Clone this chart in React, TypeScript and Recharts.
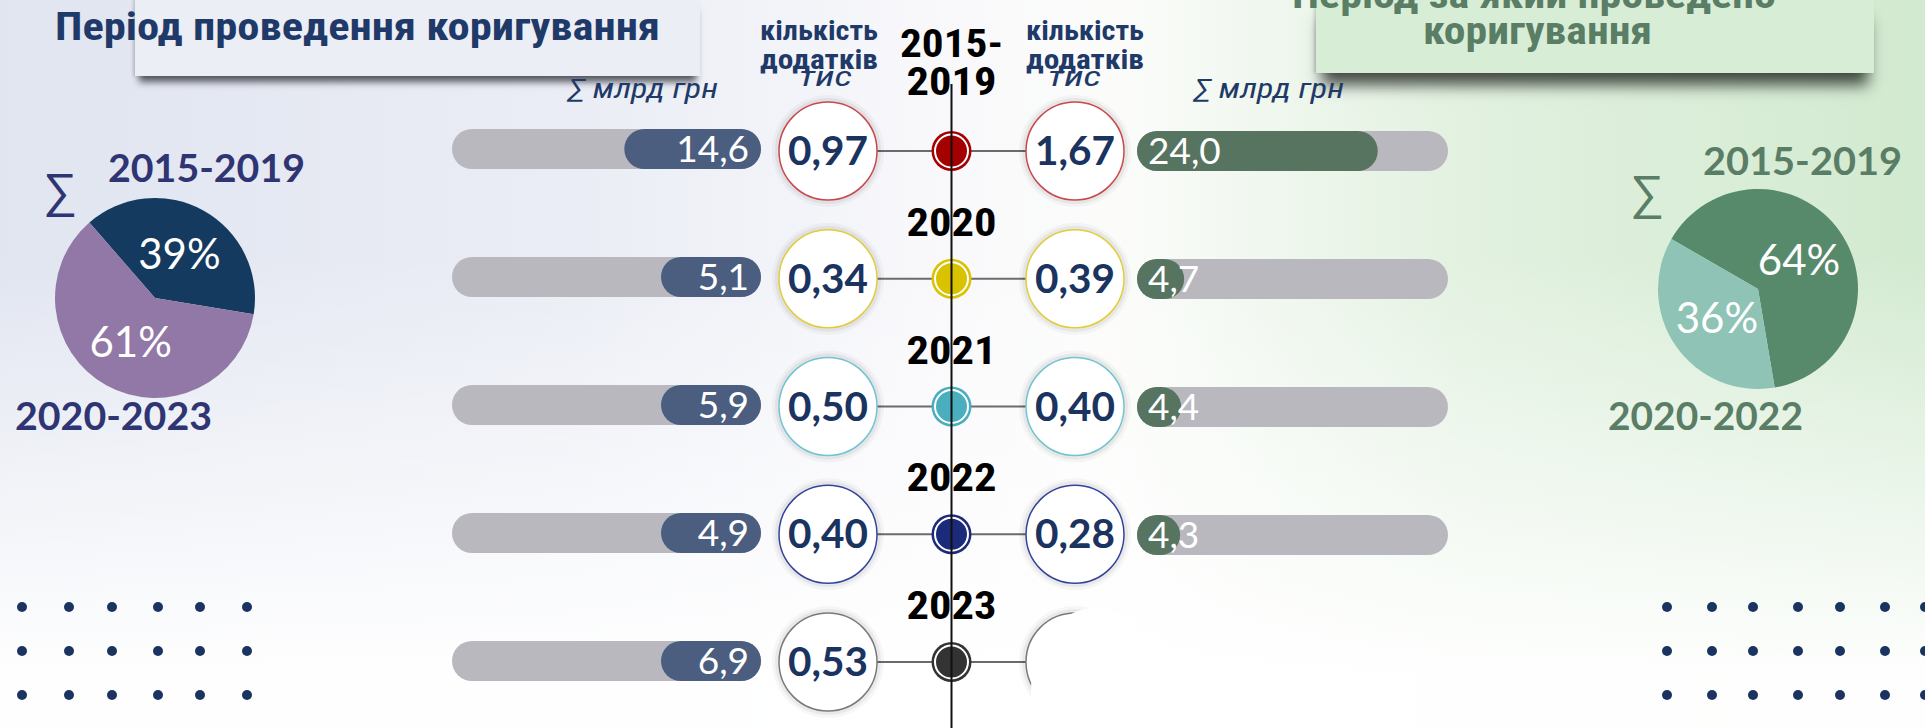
import {
  Bar,
  BarChart,
  Cell,
  LabelList,
  Pie,
  PieChart,
  Scatter,
  ScatterChart,
  XAxis,
  YAxis,
} from "recharts";

// data read from the infographic
const years = ["2015-\n2019", "2020", "2021", "2022", "2023"];
const leftSums = [14.6, 5.1, 5.9, 4.9, 6.9]; // млрд грн, період проведення
const leftCounts = [0.97, 0.34, 0.5, 0.4, 0.53]; // тис додатків
const rightSums = [24.0, 4.7, 4.4, 4.3]; // млрд грн, період за який проведено
const rightCounts = [1.67, 0.39, 0.4, 0.28, null];
const dotColors = ["#a50000", "#d9c200", "#4aaebf", "#1b2b7a", "#333333"];
const ringColors = ["#c9484b", "#e3cc3a", "#72c4d2", "#34449a", "#7a7a7a"];

const leftShareNames = ["2015-2019", "2020-2023"];
const leftShareValues = [39, 61];
const leftShareColors = ["#143a5f", "#9278a6"];
const rightShareNames = ["2015-2019", "2020-2022"];
const rightShareValues = [64, 36];
const rightShareColors = ["#578a6b", "#8fc3b5"];

const NAVY = "#1b335f";
const GREEN_TXT = "#5a7d66";
const PIE_TXT = "#2f3573";
const COND = "'Liberation Sans Narrow', 'Roboto Condensed', 'Arial Narrow', Roboto, sans-serif";
const LATO = "Lato, 'Noto Sans', sans-serif";
const RAD = Math.PI / 180;

const fmt1 = (v: number) => v.toFixed(1).replace(".", ",");
const fmt2 = (v: number) => v.toFixed(2).replace(".", ",");

const leftRows = years.map((y, i) => ({ year: y, sum: leftSums[i] }));
const rightRows = rightSums.map((s, i) => ({ year: years[i], sum: s }));
const leftCircles = years.map((y, i) => ({ x: -1, y: i, count: leftCounts[i], ring: ringColors[i] }));
const rightCircles = years.map((y, i) => ({ x: 1, y: i, count: rightCounts[i], ring: ringColors[i] }));
const centerDots = years.map((y, i) => ({ x: 0, y: i, year: y, color: dotColors[i] }));
const leftPie = leftShareNames.map((n, i) => ({ name: n, value: leftShareValues[i] }));
const rightPie = rightShareNames.map((n, i) => ({ name: n, value: rightShareValues[i] }));

const leftDotsX = [22, 69, 112, 158, 200, 247];
const rightDotsX = [1667, 1712, 1753, 1798, 1840, 1885, 1925];
const dotsY = [607, 651, 695];

function CountCircle(props: any) {
  const { cx, cy, payload } = props;
  return (
    <g>
      <circle cx={cx} cy={cy} r={56} fill="rgba(0,0,0,0.03)" />
      <circle cx={cx} cy={cy} r={53} fill="rgba(0,0,0,0.05)" />
      <circle cx={cx} cy={cy} r={49} fill="#fff" stroke={payload.ring} strokeWidth={1.5} />
      {payload.count != null && (
        <text
          x={cx}
          y={cy + 14}
          textAnchor="middle"
          fontFamily={LATO}
          fontWeight={700}
          fontSize={40}
          fill={NAVY}
          textLength={80}
          lengthAdjust="spacingAndGlyphs"
        >
          {fmt2(payload.count)}
        </text>
      )}
    </g>
  );
}

function TimelineDot(props: any) {
  const { cx, cy, payload } = props;
  const lines: string[] = payload.year.split("\n");
  const last = cy - (lines.length > 1 ? 56 : 43);
  return (
    <g>
      <line x1={cx - 75} x2={cx + 75} y1={cy} y2={cy} stroke="#6b6b6b" strokeWidth={2} />
      <circle cx={cx} cy={cy} r={20} fill={payload.color} />
      <circle cx={cx} cy={cy} r={16.5} fill={payload.color} stroke="#fff" strokeWidth={2} />
      {lines.map((t, i) => (
        <text
          key={i}
          x={cx}
          y={last - (lines.length - 1 - i) * 38}
          textAnchor="middle"
          fontFamily={COND}
          fontWeight={700}
          fontSize={38}
          fill="#000"
          textLength={t.length > 4 ? 103 : 90}
          lengthAdjust="spacingAndGlyphs"
        >
          {t}
        </text>
      ))}
    </g>
  );
}

const leftLabel = (p: any) => {
  const right = Math.max(p.x, p.x + p.width);
  return (
    <text x={right - 12} y={p.y + p.height / 2 + 13} textAnchor="end" fill="#fff" fontFamily={LATO} fontWeight={400} fontSize={37}>
      {fmt1(p.value)}
    </text>
  );
};

const rightLabel = (p: any) => {
  const left = Math.min(p.x, p.x + p.width);
  return (
    <text x={left + 11} y={p.y + p.height / 2 + 13} textAnchor="start" fill="#fff" fontFamily={LATO} fontWeight={400} fontSize={37}>
      {fmt1(p.value)}
    </text>
  );
};

const pieLabel = (p: any) => {
  const r = p.outerRadius * 0.5;
  const x = p.cx + r * Math.cos(-p.midAngle * RAD);
  const y = p.cy + r * Math.sin(-p.midAngle * RAD);
  return (
    <text x={x} y={y + 15} fill="#fff" fontSize={42} fontFamily={LATO} textAnchor="middle">
      {p.value}%
    </text>
  );
};

const abs = (left: number, top: number, width: number, height: number): React.CSSProperties => ({
  position: "absolute",
  left,
  top,
  width,
  height,
});

export default function App() {
  return (
    <div
      style={{
        position: "absolute",
        left: 0,
        top: 0,
        width: 1925,
        height: 728,
        overflow: "hidden",
        fontFamily: LATO,
        background:
          "linear-gradient(to bottom, rgba(255,255,255,0) 35%, rgba(255,255,255,0.96) 92%), linear-gradient(to right, #e1e5f0 0%, #eaedf5 30%, #f8f8fb 48%, #fbfcfa 58%, #e2f1e0 76%, #d2ead0 100%)",
      }}
    >
      {/* title boxes */}
      <div style={{ ...abs(135, -4, 565, 80), background: "#eceef5", boxShadow: "0 10px 7px -4px rgba(40,40,50,0.75), -2px 0 3px rgba(0,0,0,0.15)" }} />
      <div style={{ ...abs(1316, -4, 558, 77), background: "#d8edd6", boxShadow: "0 18px 14px -6px rgba(30,35,30,0.8), -2px 0 3px rgba(0,0,0,0.15)" }} />

      {/* pies */}
      <div style={abs(24.5, 167.5, 260, 260)}>
        <PieChart width={260} height={260}>
          <Pie data={leftPie} dataKey="value" outerRadius={100} startAngle={131} endAngle={-229} stroke="none" label={pieLabel} labelLine={false} isAnimationActive={false}>
            {leftPie.map((d, i) => (
              <Cell key={d.name} fill={leftShareColors[i]} />
            ))}
          </Pie>
        </PieChart>
      </div>
      <div style={abs(1627.5, 159, 260, 260)}>
        <PieChart width={260} height={260}>
          <Pie data={rightPie} dataKey="value" outerRadius={100} startAngle={150} endAngle={-210} stroke="none" label={pieLabel} labelLine={false} isAnimationActive={false}>
            {rightPie.map((d, i) => (
              <Cell key={d.name} fill={rightShareColors[i]} />
            ))}
          </Pie>
        </PieChart>
      </div>

      {/* left bars */}
      <div style={abs(452, 85, 309, 640)}>
        <BarChart width={309} height={640} data={leftRows} layout="vertical" margin={{ top: 0, right: 0, bottom: 0, left: 0 }}>
          <XAxis type="number" domain={[0, 33]} reversed hide />
          <YAxis type="category" dataKey="year" hide />
          <Bar dataKey="sum" barSize={40} fill="#4b5e80" radius={20} minPointSize={100} background={{ fill: "#b9b8bf", radius: 20 }} isAnimationActive={false}>
            <LabelList dataKey="sum" content={leftLabel} />
          </Bar>
        </BarChart>
      </div>

      {/* right bars */}
      <div style={abs(1137, 87, 311, 512)}>
        <BarChart width={311} height={512} data={rightRows} layout="vertical" margin={{ top: 0, right: 0, bottom: 0, left: 0 }}>
          <XAxis type="number" domain={[0, 31]} hide />
          <YAxis type="category" dataKey="year" hide />
          <Bar dataKey="sum" barSize={40} fill="#577460" radius={20} minPointSize={41} background={{ fill: "#b9b8bf", radius: 20 }} isAnimationActive={false}>
            <LabelList dataKey="sum" content={rightLabel} />
          </Bar>
        </BarChart>
      </div>

      {/* timeline with count circles */}
      <div style={abs(768, 21, 367, 707)}>
        <ScatterChart width={367} height={707} margin={{ top: 130, right: 60, bottom: 66, left: 60 }}>
          <XAxis type="number" dataKey="x" domain={[-1, 1]} hide />
          <YAxis type="number" dataKey="y" domain={[0, 4]} reversed hide />
          <Scatter data={centerDots} shape={TimelineDot} isAnimationActive={false} />
          <Scatter data={leftCircles} shape={CountCircle} isAnimationActive={false} />
          <Scatter data={rightCircles} shape={CountCircle} isAnimationActive={false} />
        </ScatterChart>
      </div>

      {/* texts and decoration */}
      <svg width={1925} height={728} style={{ position: "absolute", left: 0, top: 0, pointerEvents: "none" }}>
        <text x={55} y={40} fontFamily={COND} fontWeight={700} fontSize={38} fill="#1f3a68" textLength={605} lengthAdjust="spacingAndGlyphs">
          Період проведення коригування
        </text>
        <text x={1292} y={8} fontFamily={COND} fontWeight={700} fontSize={38} fill={GREEN_TXT} textLength={484} lengthAdjust="spacingAndGlyphs">
          Період за який проведено
        </text>
        <text x={1423} y={44} fontFamily={COND} fontWeight={700} fontSize={38} fill={GREEN_TXT} textLength={229} lengthAdjust="spacingAndGlyphs">
          коригування
        </text>

        <text x={568} y={98} fontFamily={COND} fontStyle="italic" fontSize={27} fill="#1f3a68" textLength={150} lengthAdjust="spacingAndGlyphs">
          ∑ млрд грн
        </text>
        <text x={1194} y={98} fontFamily={COND} fontStyle="italic" fontSize={27} fill="#1f3a68" textLength={150} lengthAdjust="spacingAndGlyphs">
          ∑ млрд грн
        </text>

        {[760, 1026].map((x) => (
          <g key={x}>
            <text x={x} y={40} fontFamily={COND} fontWeight={700} fontSize={27} fill="#1f3a68" textLength={118} lengthAdjust="spacingAndGlyphs">
              кількість
            </text>
            <text x={x} y={69} fontFamily={COND} fontWeight={700} fontSize={27} fill="#1f3a68" textLength={118} lengthAdjust="spacingAndGlyphs">
              додатків
            </text>
            <text x={x + (x === 760 ? 39 : 22)} y={86} fontFamily={COND} fontStyle="italic" fontSize={27} fill="#1f3a68" textLength={53} lengthAdjust="spacingAndGlyphs">
              тис
            </text>
          </g>
        ))}

        {/* pie captions */}
        <text x={43} y={207} fontFamily="'DejaVu Sans', sans-serif" fontWeight={200} fontSize={48} fill={PIE_TXT}>∑</text>
        <text x={108} y={182} fontFamily={LATO} fontWeight={700} fontSize={38} fill={PIE_TXT} textLength={197} lengthAdjust="spacingAndGlyphs">2015-2019</text>
        <text x={15} y={430} fontFamily={LATO} fontWeight={700} fontSize={38} fill={PIE_TXT} textLength={197} lengthAdjust="spacingAndGlyphs">2020-2023</text>
        <text x={1630} y={209} fontFamily="'DejaVu Sans', sans-serif" fontWeight={200} fontSize={48} fill={GREEN_TXT}>∑</text>
        <text x={1703} y={175} fontFamily={LATO} fontWeight={700} fontSize={38} fill={GREEN_TXT} textLength={199} lengthAdjust="spacingAndGlyphs">2015-2019</text>
        <text x={1608} y={430} fontFamily={LATO} fontWeight={700} fontSize={38} fill={GREEN_TXT} textLength={195} lengthAdjust="spacingAndGlyphs">2020-2022</text>

        {/* white patch over the unused 2023 circle */}
        <ellipse cx={1095} cy={690} rx={64} ry={82} fill="#fff" />

        {/* timeline axis */}
        <line x1={951.5} x2={951.5} y1={84} y2={728} stroke="#111" strokeWidth={2} />

        {dotsY.map((y) =>
          leftDotsX.map((x) => <circle key={`l${x}-${y}`} cx={x} cy={y} r={5} fill="#1b3360" />)
        )}
        {dotsY.map((y) =>
          rightDotsX.map((x) => <circle key={`r${x}-${y}`} cx={x} cy={y} r={5} fill="#1b3360" />)
        )}
      </svg>
    </div>
  );
}
